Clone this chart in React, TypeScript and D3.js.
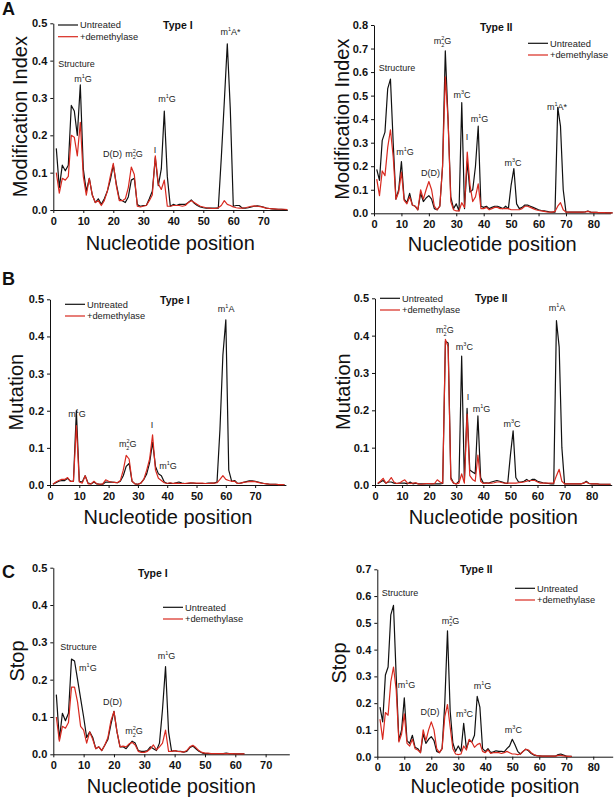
import React, { useRef, useEffect } from 'react';
import * as d3 from 'd3';

const FONT = 'Arial, "Liberation Sans", Helvetica, sans-serif';
const BLACK = '#111111';
const RED = '#d8291f';

// A: modification index, type I / type II (one value per nucleotide, starting at 1)
const modTypeIUntreated = [
  0.165, 0.06, 0.12, 0.105, 0.12, 0.28, 0.265, 0.2, 0.335, 0.11,
  0.05, 0.085, 0.04, 0.02, 0.03, 0.015, 0.03, 0.05, 0.08, 0.12,
  0.07, 0.03, 0.025, 0.02, 0.035, 0.08, 0.085, 0.015, 0.01, 0.012,
  0.012, 0.03, 0.05, 0.14, 0.065, 0.11, 0.265, 0.09, 0.01, 0.015,
  0.012, 0.015, 0.015, 0.015, 0.02, 0.027, 0.018, 0.012, 0.008, 0.006,
  0.005, 0.005, 0.005, 0.005, 0.005, 0.14, 0.29, 0.445, 0.27, 0.01,
  0.012, 0.012, 0.005, 0.005, 0.006, 0.008, 0.01, 0.011, 0.01, 0.008,
  0.005, 0.004, 0.003, 0.002, 0.002, 0.002, 0.001, 0.001
];
const modTypeIDemeth = [
  0.1, 0.045, 0.085, 0.08, 0.09, 0.2, 0.195, 0.145, 0.235, 0.09,
  0.04, 0.085, 0.04, 0.02, 0.025, 0.012, 0.025, 0.05, 0.09, 0.125,
  0.065, 0.025, 0.025, 0.03, 0.06, 0.115, 0.095, 0.01, 0.008, 0.01,
  0.012, 0.025, 0.04, 0.145, 0.07, 0.055, 0.08, 0.01, 0.01, 0.012,
  0.012, 0.012, 0.01, 0.012, 0.02, 0.025, 0.02, 0.015, 0.01, 0.008,
  0.006, 0.005, 0.004, 0.004, 0.006, 0.012, 0.025, 0.015, 0.012, 0.008,
  0.006, 0.005, 0.005, 0.006, 0.008, 0.01, 0.011, 0.01, 0.009, 0.007,
  0.005, 0.004, 0.003, 0.003, 0.002, 0.002, 0.002, 0.001
];
const modTypeIIUntreated = [
  0.187, 0.14, 0.31, 0.345, 0.53, 0.57, 0.3, 0.06, 0.1, 0.22,
  0.06, 0.045, 0.085, 0.035, 0.03, 0.015, 0.085, 0.05, 0.065, 0.075,
  0.06, 0.02, 0.015, 0.03, 0.2, 0.69, 0.4, 0.07, 0.02, 0.04,
  0.01, 0.47, 0.02, 0.22, 0.09, 0.1, 0.2, 0.37, 0.03, 0.025,
  0.03, 0.02, 0.025, 0.03, 0.03, 0.025, 0.02, 0.03, 0.02, 0.12,
  0.19, 0.04, 0.02, 0.025, 0.035, 0.035, 0.03, 0.025, 0.02, 0.015,
  0.012, 0.01, 0.008, 0.006, 0.005, 0.005, 0.45, 0.37, 0.1, 0.005,
  0.005, 0.005, 0.005, 0.005, 0.005, 0.005, 0.006, 0.01, 0.005, 0.004,
  0.004, 0.003, 0.003, 0.003, 0.002, 0.002, 0.002
];
const modTypeIIDemeth = [
  0.145, 0.075, 0.18, 0.16, 0.28, 0.355, 0.24, 0.06, 0.09, 0.175,
  0.055, 0.04, 0.07, 0.035, 0.03, 0.015, 0.1, 0.06, 0.1, 0.135,
  0.1, 0.03, 0.015, 0.03, 0.2, 0.58, 0.4, 0.05, 0.015, 0.01,
  0.01, 0.045, 0.025, 0.26, 0.12, 0.05, 0.07, 0.125, 0.02, 0.02,
  0.025, 0.015, 0.02, 0.025, 0.025, 0.02, 0.02, 0.02, 0.02, 0.015,
  0.015, 0.015, 0.015, 0.02, 0.03, 0.03, 0.025, 0.02, 0.015, 0.012,
  0.01, 0.008, 0.006, 0.005, 0.005, 0.008, 0.03, 0.045, 0.015, 0.005,
  0.005, 0.005, 0.005, 0.005, 0.005, 0.005, 0.006, 0.008, 0.005, 0.004,
  0.004, 0.003, 0.003, 0.003, 0.002, 0.002, 0.002
];

// B: mutation
const mutTypeIUntreated = [
  0.002, 0.006, 0.01, 0.012, 0.012, 0.018, 0.01, 0.01, 0.2, 0.01,
  0.008, 0.025, 0.005, 0.003, 0.008, 0.003, 0.002, 0.002, 0.008, 0.008,
  0.008, 0.007, 0.006, 0.01, 0.025, 0.05, 0.058, 0.01, 0.003, 0.002,
  0.005, 0.015, 0.03, 0.06, 0.115, 0.05, 0.03, 0.025, 0.008, 0.004,
  0.005, 0.004, 0.006, 0.008, 0.005, 0.004, 0.004, 0.005, 0.005, 0.004,
  0.004, 0.004, 0.004, 0.005, 0.005, 0.005, 0.008, 0.15, 0.35, 0.445,
  0.04, 0.01, 0.012, 0.004, 0.005, 0.007, 0.009, 0.011, 0.011, 0.01,
  0.008, 0.006, 0.004, 0.003, 0.002, 0.002, 0.002, 0.001, 0.001, 0.001
];
const mutTypeIDemeth = [
  0.002, 0.008, 0.012, 0.015, 0.015, 0.02, 0.01, 0.01, 0.16, 0.008,
  0.005, 0.025, 0.003, 0.003, 0.01, 0.003, 0.002, 0.003, 0.014, 0.01,
  0.008, 0.007, 0.006, 0.012, 0.04, 0.08, 0.07, 0.01, 0.003, 0.002,
  0.005, 0.015, 0.04, 0.07, 0.135, 0.04, 0.018, 0.012, 0.006, 0.004,
  0.006, 0.004, 0.005, 0.004, 0.004, 0.004, 0.005, 0.006, 0.005, 0.005,
  0.005, 0.005, 0.004, 0.004, 0.005, 0.005, 0.006, 0.015, 0.025, 0.015,
  0.012, 0.01, 0.01, 0.004, 0.005, 0.007, 0.008, 0.009, 0.01, 0.009,
  0.007, 0.005, 0.004, 0.003, 0.002, 0.002, 0.002, 0.001, 0.001, 0.001
];
const mutTypeIIUntreated = [
  0.003, 0.008, 0.012, 0.005, 0.008, 0.008, 0.005, 0.004, 0.005, 0.005,
  0.005, 0.003, 0.008, 0.003, 0.005, 0.003, 0.003, 0.003, 0.003, 0.003,
  0.003, 0.003, 0.003, 0.003, 0.004, 0.385, 0.38, 0.02, 0.005, 0.003,
  0.01, 0.345, 0.01, 0.205, 0.04, 0.035, 0.03, 0.185, 0.02, 0.005,
  0.006, 0.005, 0.008, 0.01, 0.012, 0.01, 0.008, 0.005, 0.004, 0.08,
  0.145, 0.02, 0.008, 0.008, 0.01, 0.015, 0.01, 0.015, 0.015, 0.01,
  0.008, 0.006, 0.005, 0.004, 0.003, 0.003, 0.44, 0.37, 0.1, 0.003,
  0.003, 0.003, 0.003, 0.003, 0.003, 0.003, 0.005, 0.01, 0.004, 0.003,
  0.003, 0.003, 0.002, 0.002, 0.002, 0.002, 0.002
];
const mutTypeIIDemeth = [
  0.005, 0.01, 0.018, 0.005, 0.01, 0.02, 0.008, 0.004, 0.005, 0.01,
  0.014, 0.005, 0.004, 0.005, 0.006, 0.003, 0.002, 0.003, 0.004, 0.004,
  0.003, 0.004, 0.014, 0.008, 0.005, 0.39, 0.37, 0.015, 0.005, 0.003,
  0.005, 0.03, 0.005, 0.19, 0.025, 0.015, 0.01, 0.08, 0.01, 0.004,
  0.005, 0.005, 0.005, 0.006, 0.008, 0.008, 0.006, 0.005, 0.005, 0.005,
  0.005, 0.005, 0.006, 0.007, 0.008, 0.01, 0.012, 0.012, 0.012, 0.008,
  0.005, 0.005, 0.005, 0.005, 0.005, 0.005, 0.025, 0.042, 0.01, 0.003,
  0.003, 0.003, 0.003, 0.003, 0.003, 0.003, 0.005, 0.008, 0.004, 0.003,
  0.003, 0.003, 0.002, 0.002, 0.002, 0.002, 0.002
];

// C: RT stop
const stopTypeIUntreated = [
  0.16, 0.04, 0.11, 0.09, 0.11, 0.255, 0.25, 0.2, 0.15, 0.1,
  0.045, 0.06, 0.045, 0.015, 0.02, 0.01, 0.025, 0.04, 0.08, 0.115,
  0.06, 0.02, 0.02, 0.015, 0.025, 0.035, 0.03, 0.01, 0.008, 0.008,
  0.01, 0.02, 0.015, 0.01, 0.03, 0.12, 0.235, 0.06, 0.008, 0.01,
  0.008, 0.008, 0.006, 0.008, 0.018, 0.022, 0.015, 0.008, 0.004, 0.002,
  0.002, 0.002, 0.002, 0.002, 0.002, 0.002, 0.003, 0.002, 0.002, 0.001,
  0.001, 0.001, 0.001
];
const stopTypeIDemeth = [
  0.1, 0.035, 0.075, 0.07, 0.085, 0.18, 0.18, 0.14, 0.075, 0.065,
  0.03, 0.06, 0.04, 0.015, 0.02, 0.01, 0.025, 0.045, 0.09, 0.115,
  0.06, 0.02, 0.022, 0.02, 0.028, 0.032, 0.025, 0.008, 0.005, 0.005,
  0.008, 0.015, 0.025, 0.012, 0.02, 0.03, 0.065, 0.008, 0.008, 0.01,
  0.008, 0.007, 0.006, 0.01, 0.02, 0.024, 0.018, 0.01, 0.005, 0.003,
  0.003, 0.002, 0.002, 0.002, 0.002, 0.002, 0.002, 0.002, 0.002, 0.001,
  0.001, 0.001, 0.001
];
const stopTypeIIUntreated = [
  0.185, 0.13, 0.305, 0.335, 0.53, 0.565, 0.3, 0.06, 0.1, 0.22,
  0.06, 0.05, 0.08, 0.035, 0.03, 0.015, 0.085, 0.05, 0.065, 0.075,
  0.06, 0.02, 0.015, 0.03, 0.2, 0.47, 0.17, 0.05, 0.02, 0.04,
  0.02, 0.125, 0.03, 0.06, 0.055, 0.08, 0.225, 0.185, 0.03, 0.02,
  0.03, 0.015, 0.018, 0.022, 0.02, 0.02, 0.018, 0.03, 0.04, 0.065,
  0.045, 0.02, 0.01, 0.02, 0.028, 0.022, 0.012, 0.006, 0.004, 0.003,
  0.002, 0.002, 0.002, 0.002, 0.002, 0.002, 0.008, 0.01, 0.006, 0.002,
  0.001, 0.001
];
const stopTypeIIDemeth = [
  0.14, 0.065, 0.165, 0.155, 0.28, 0.335, 0.25, 0.055, 0.085, 0.16,
  0.05, 0.04, 0.065, 0.03, 0.025, 0.015, 0.1, 0.06, 0.1, 0.13,
  0.1, 0.03, 0.015, 0.03, 0.15, 0.195, 0.11, 0.03, 0.01, 0.008,
  0.01, 0.04, 0.025, 0.065, 0.055, 0.035, 0.045, 0.05, 0.02, 0.015,
  0.025, 0.012, 0.015, 0.015, 0.015, 0.012, 0.015, 0.02, 0.015, 0.01,
  0.01, 0.008, 0.01, 0.02, 0.028, 0.025, 0.015, 0.008, 0.004, 0.003,
  0.002, 0.002, 0.002, 0.002, 0.002, 0.002, 0.005, 0.005, 0.003, 0.002,
  0.001, 0.001
];

// peak annotations, placed in data units (nucleotide, value)
type Note = { pre: string; sup?: string; sub?: string; post?: string; x: number; y: number };

const modTypeINotes: Note[] = [
  { pre: 'Structure', x: 7.7, y: 0.384 },
  { pre: 'm', sup: '1', post: 'G', x: 9.9, y: 0.343 },
  { pre: 'D(D)', x: 19.7, y: 0.142 },
  { pre: 'm', sup: '2', sub: '2', post: 'G', x: 26.9, y: 0.142 },
  { pre: 'I', x: 33.9, y: 0.153 },
  { pre: 'm', sup: '1', post: 'G', x: 37.9, y: 0.289 },
  { pre: 'm', sup: '1', post: 'A*', x: 59.1, y: 0.469 }
];
const modTypeIINotes: Note[] = [
  { pre: 'Structure', x: 8.4, y: 0.605 },
  { pre: 'm', sup: '1', post: 'G', x: 11.3, y: 0.248 },
  { pre: 'D(D)', x: 20.6, y: 0.158 },
  { pre: 'm', sup: '2', sub: '2', post: 'G', x: 25.0, y: 0.719 },
  { pre: 'm', sup: '3', post: 'C', x: 32.1, y: 0.49 },
  { pre: 'I', x: 33.9, y: 0.311 },
  { pre: 'm', sup: '1', post: 'G', x: 38.5, y: 0.388 },
  { pre: 'm', sup: '3', post: 'C', x: 50.7, y: 0.2 },
  { pre: 'm', sup: '1', post: 'A*', x: 66.7, y: 0.439 }
];
const mutTypeINotes: Note[] = [
  { pre: 'm', sup: '1', post: 'G', x: 9.2, y: 0.184 },
  { pre: 'm', sup: '2', sub: '2', post: 'G', x: 26.5, y: 0.102 },
  { pre: 'I', x: 34.8, y: 0.153 },
  { pre: 'm', sup: '1', post: 'G', x: 40.3, y: 0.043 },
  { pre: 'm', sup: '1', post: 'A', x: 60.1, y: 0.466 }
];
const mutTypeIINotes: Note[] = [
  { pre: 'm', sup: '2', sub: '2', post: 'G', x: 25.8, y: 0.407 },
  { pre: 'm', sup: '3', post: 'C', x: 33.0, y: 0.362 },
  { pre: 'I', x: 34.3, y: 0.228 },
  { pre: 'm', sup: '1', post: 'G', x: 39.3, y: 0.196 },
  { pre: 'm', sup: '3', post: 'C', x: 50.6, y: 0.156 },
  { pre: 'm', sup: '1', post: 'A', x: 67.2, y: 0.467 }
];
const stopTypeINotes: Note[] = [
  { pre: 'Structure', x: 8.3, y: 0.279 },
  { pre: 'm', sup: '1', post: 'G', x: 11.4, y: 0.224 },
  { pre: 'D(D)', x: 19.5, y: 0.132 },
  { pre: 'm', sup: '2', sub: '2', post: 'G', x: 26.6, y: 0.054 },
  { pre: 'm', sup: '1', post: 'G', x: 37.3, y: 0.255 }
];
const stopTypeIINotes: Note[] = [
  { pre: 'Structure', x: 8.4, y: 0.6 },
  { pre: 'm', sup: '1', post: 'G', x: 10.8, y: 0.258 },
  { pre: 'D(D)', x: 19.5, y: 0.156 },
  { pre: 'm', sup: '2', sub: '2', post: 'G', x: 27.1, y: 0.496 },
  { pre: 'm', sup: '3', post: 'C', x: 32.3, y: 0.149 },
  { pre: 'm', sup: '1', post: 'G', x: 39.0, y: 0.253 },
  { pre: 'm', sup: '3', post: 'C', x: 50.4, y: 0.09 }
];

const xTicks = [0, 10, 20, 30, 40, 50, 60, 70];
const xTicksLong = [0, 10, 20, 30, 40, 50, 60, 70, 80];
const yTicks05 = [0, 0.1, 0.2, 0.3, 0.4, 0.5];
const yTicks07 = [0, 0.1, 0.2, 0.3, 0.4, 0.5, 0.6, 0.7];
const yTicks08 = [0, 0.1, 0.2, 0.3, 0.4, 0.5, 0.6, 0.7, 0.8];

const panels = [
  {
    letter: 'A', untreated: modTypeIUntreated, demeth: modTypeIDemeth, notes: modTypeINotes,
    xMax: 78, yMax: 0.5, xT: xTicks, yT: yTicks05,
    left: 53.3, right: 287.3, top: 23.3, bottom: 210,
    yTitle: 'Modification Index', yTitleX: 27, xTitleY: 250,
    type: 'Type I', typeX: 163, typeY: 29, legX: 58, legY: 25
  },
  {
    letter: null, untreated: modTypeIIUntreated, demeth: modTypeIIDemeth, notes: modTypeIINotes,
    xMax: 86.2, yMax: 0.8, xT: xTicksLong, yT: yTicks08,
    left: 374, right: 610.4, top: 25, bottom: 213.3,
    yTitle: 'Modification Index', yTitleX: 349, xTitleY: 251,
    type: 'Type II', typeX: 480, typeY: 31, legX: 528, legY: 43.3
  },
  {
    letter: 'B', untreated: mutTypeIUntreated, demeth: mutTypeIDemeth, notes: mutTypeINotes,
    xMax: 80.5, yMax: 0.5, xT: xTicks, yT: yTicks05,
    left: 50, right: 285.9, top: 299.3, bottom: 485,
    yTitle: 'Mutation', yTitleX: 23, xTitleY: 524,
    type: 'Type I', typeX: 160, typeY: 304, legX: 65, legY: 304.3
  },
  {
    letter: null, untreated: mutTypeIIUntreated, demeth: mutTypeIIDemeth, notes: mutTypeIINotes,
    xMax: 87.4, yMax: 0.5, xT: xTicksLong, yT: yTicks05,
    left: 375, right: 611.7, top: 298.3, bottom: 485,
    yTitle: 'Mutation', yTitleX: 350, xTitleY: 524,
    type: 'Type II', typeX: 475, typeY: 302, legX: 380, legY: 298.3
  },
  {
    letter: 'C', untreated: stopTypeIUntreated, demeth: stopTypeIDemeth, notes: stopTypeINotes,
    xMax: 77.8, yMax: 0.5, xT: xTicks, yT: yTicks05,
    left: 53.3, right: 289.3, top: 567.7, bottom: 754.3,
    yTitle: 'Stop', yTitleX: 24, xTitleY: 793,
    type: 'Type I', typeX: 138, typeY: 577, legX: 163, legY: 607.3
  },
  {
    letter: null, untreated: stopTypeIIUntreated, demeth: stopTypeIIDemeth, notes: stopTypeIINotes,
    xMax: 87.2, yMax: 0.7, xT: xTicksLong, yT: yTicks07,
    left: 377.3, right: 612.7, top: 569.3, bottom: 756.7,
    yTitle: 'Stop', yTitleX: 346, xTitleY: 793,
    type: 'Type II', typeX: 460, typeY: 573, legX: 515, legY: 588.3
  }
];

const letterY: Record<string, number> = { A: 15, B: 285, C: 578 };

const App = () => {
  const svgRef = useRef<SVGSVGElement | null>(null);

  useEffect(() => {
    const svg = d3.select(svgRef.current);
    svg.selectAll('*').remove();

    panels.forEach(p => {
      const x = d3.scaleLinear().domain([0, p.xMax]).range([p.left, p.right]);
      const y = d3.scaleLinear().domain([0, p.yMax]).range([p.bottom, p.top]);
      const g = svg.append('g');

      // axes
      const xAxis = d3.axisBottom(x).tickValues(p.xT).tickFormat(d3.format('d'))
        .tickSizeInner(3).tickSizeOuter(0).tickPadding(4);
      const yAxis = d3.axisLeft(y).tickValues(p.yT).tickFormat(d3.format('.1f'))
        .tickSizeInner(3).tickSizeOuter(0).tickPadding(3);

      [
        g.append('g').attr('transform', `translate(0,${p.bottom})`).call(xAxis),
        g.append('g').attr('transform', `translate(${p.left},0)`).call(yAxis)
      ].forEach(a => {
        a.select('.domain').attr('stroke', BLACK).attr('stroke-width', 1);
        a.selectAll('.tick line').attr('stroke', BLACK).attr('stroke-width', 1);
        a.selectAll('.tick text')
          .attr('fill', BLACK)
          .attr('font-family', FONT)
          .attr('font-size', 11)
          .attr('font-weight', 'bold');
      });

      // series
      const line = d3.line<number>()
        .x((_, i) => x(i + 1))
        .y(d => y(d));

      g.append('path')
        .datum(p.untreated)
        .attr('d', line)
        .attr('fill', 'none')
        .attr('stroke', BLACK)
        .attr('stroke-width', 1.2)
        .attr('stroke-linejoin', 'round');

      g.append('path')
        .datum(p.demeth)
        .attr('d', line)
        .attr('fill', 'none')
        .attr('stroke', RED)
        .attr('stroke-width', 1.2)
        .attr('stroke-linejoin', 'round');

      // titles
      g.append('text')
        .attr('transform', `translate(${p.yTitleX},${(p.top + p.bottom) / 2}) rotate(-90)`)
        .attr('text-anchor', 'middle')
        .attr('font-family', FONT)
        .attr('font-size', 20)
        .attr('fill', BLACK)
        .text(p.yTitle);

      g.append('text')
        .attr('x', (p.left + p.right) / 2)
        .attr('y', p.xTitleY)
        .attr('text-anchor', 'middle')
        .attr('font-family', FONT)
        .attr('font-size', 20)
        .attr('fill', BLACK)
        .text('Nucleotide position');

      g.append('text')
        .attr('x', p.typeX)
        .attr('y', p.typeY)
        .attr('font-family', FONT)
        .attr('font-size', 10.5)
        .attr('font-weight', 'bold')
        .attr('fill', BLACK)
        .text(p.type);

      if (p.letter) {
        g.append('text')
          .attr('x', 2)
          .attr('y', letterY[p.letter])
          .attr('font-family', FONT)
          .attr('font-size', 18)
          .attr('font-weight', 'bold')
          .attr('fill', BLACK)
          .text(p.letter);
      }

      // legend
      const leg = [
        { name: 'Untreated', color: BLACK },
        { name: '+demethylase', color: RED }
      ];
      leg.forEach((l, i) => {
        const ly = p.legY + i * 11.7;
        g.append('line')
          .attr('x1', p.legX).attr('x2', p.legX + 20)
          .attr('y1', ly).attr('y2', ly)
          .attr('stroke', l.color).attr('stroke-width', 1.2);
        g.append('text')
          .attr('x', p.legX + 22)
          .attr('y', ly + 3.3)
          .attr('font-family', FONT)
          .attr('font-size', 9.3)
          .attr('fill', '#222')
          .text(l.name);
      });

      // annotations
      p.notes.forEach(n => {
        const t = g.append('text')
          .attr('x', x(n.x))
          .attr('y', y(n.y))
          .attr('text-anchor', 'middle')
          .attr('font-family', FONT)
          .attr('font-size', 9)
          .attr('fill', '#222');
        t.append('tspan').text(n.pre);
        if (n.sup) {
          t.append('tspan').attr('font-size', 5.5).attr('dy', -4).text(n.sup);
          if (n.sub) {
            t.append('tspan').attr('font-size', 5.5).attr('dx', -3.1).attr('dy', 6.5).text(n.sub);
            t.append('tspan').attr('dy', -2.5).text(n.post || '');
          } else {
            t.append('tspan').attr('dy', 4).text(n.post || '');
          }
        }
      });
    });
  }, []);

  return (
    <div style={{ position: 'absolute', left: 0, top: 0, background: '#fff' }}>
      <svg ref={svgRef} width={614} height={801} style={{ display: 'block' }} />
    </div>
  );
};

export default App;
